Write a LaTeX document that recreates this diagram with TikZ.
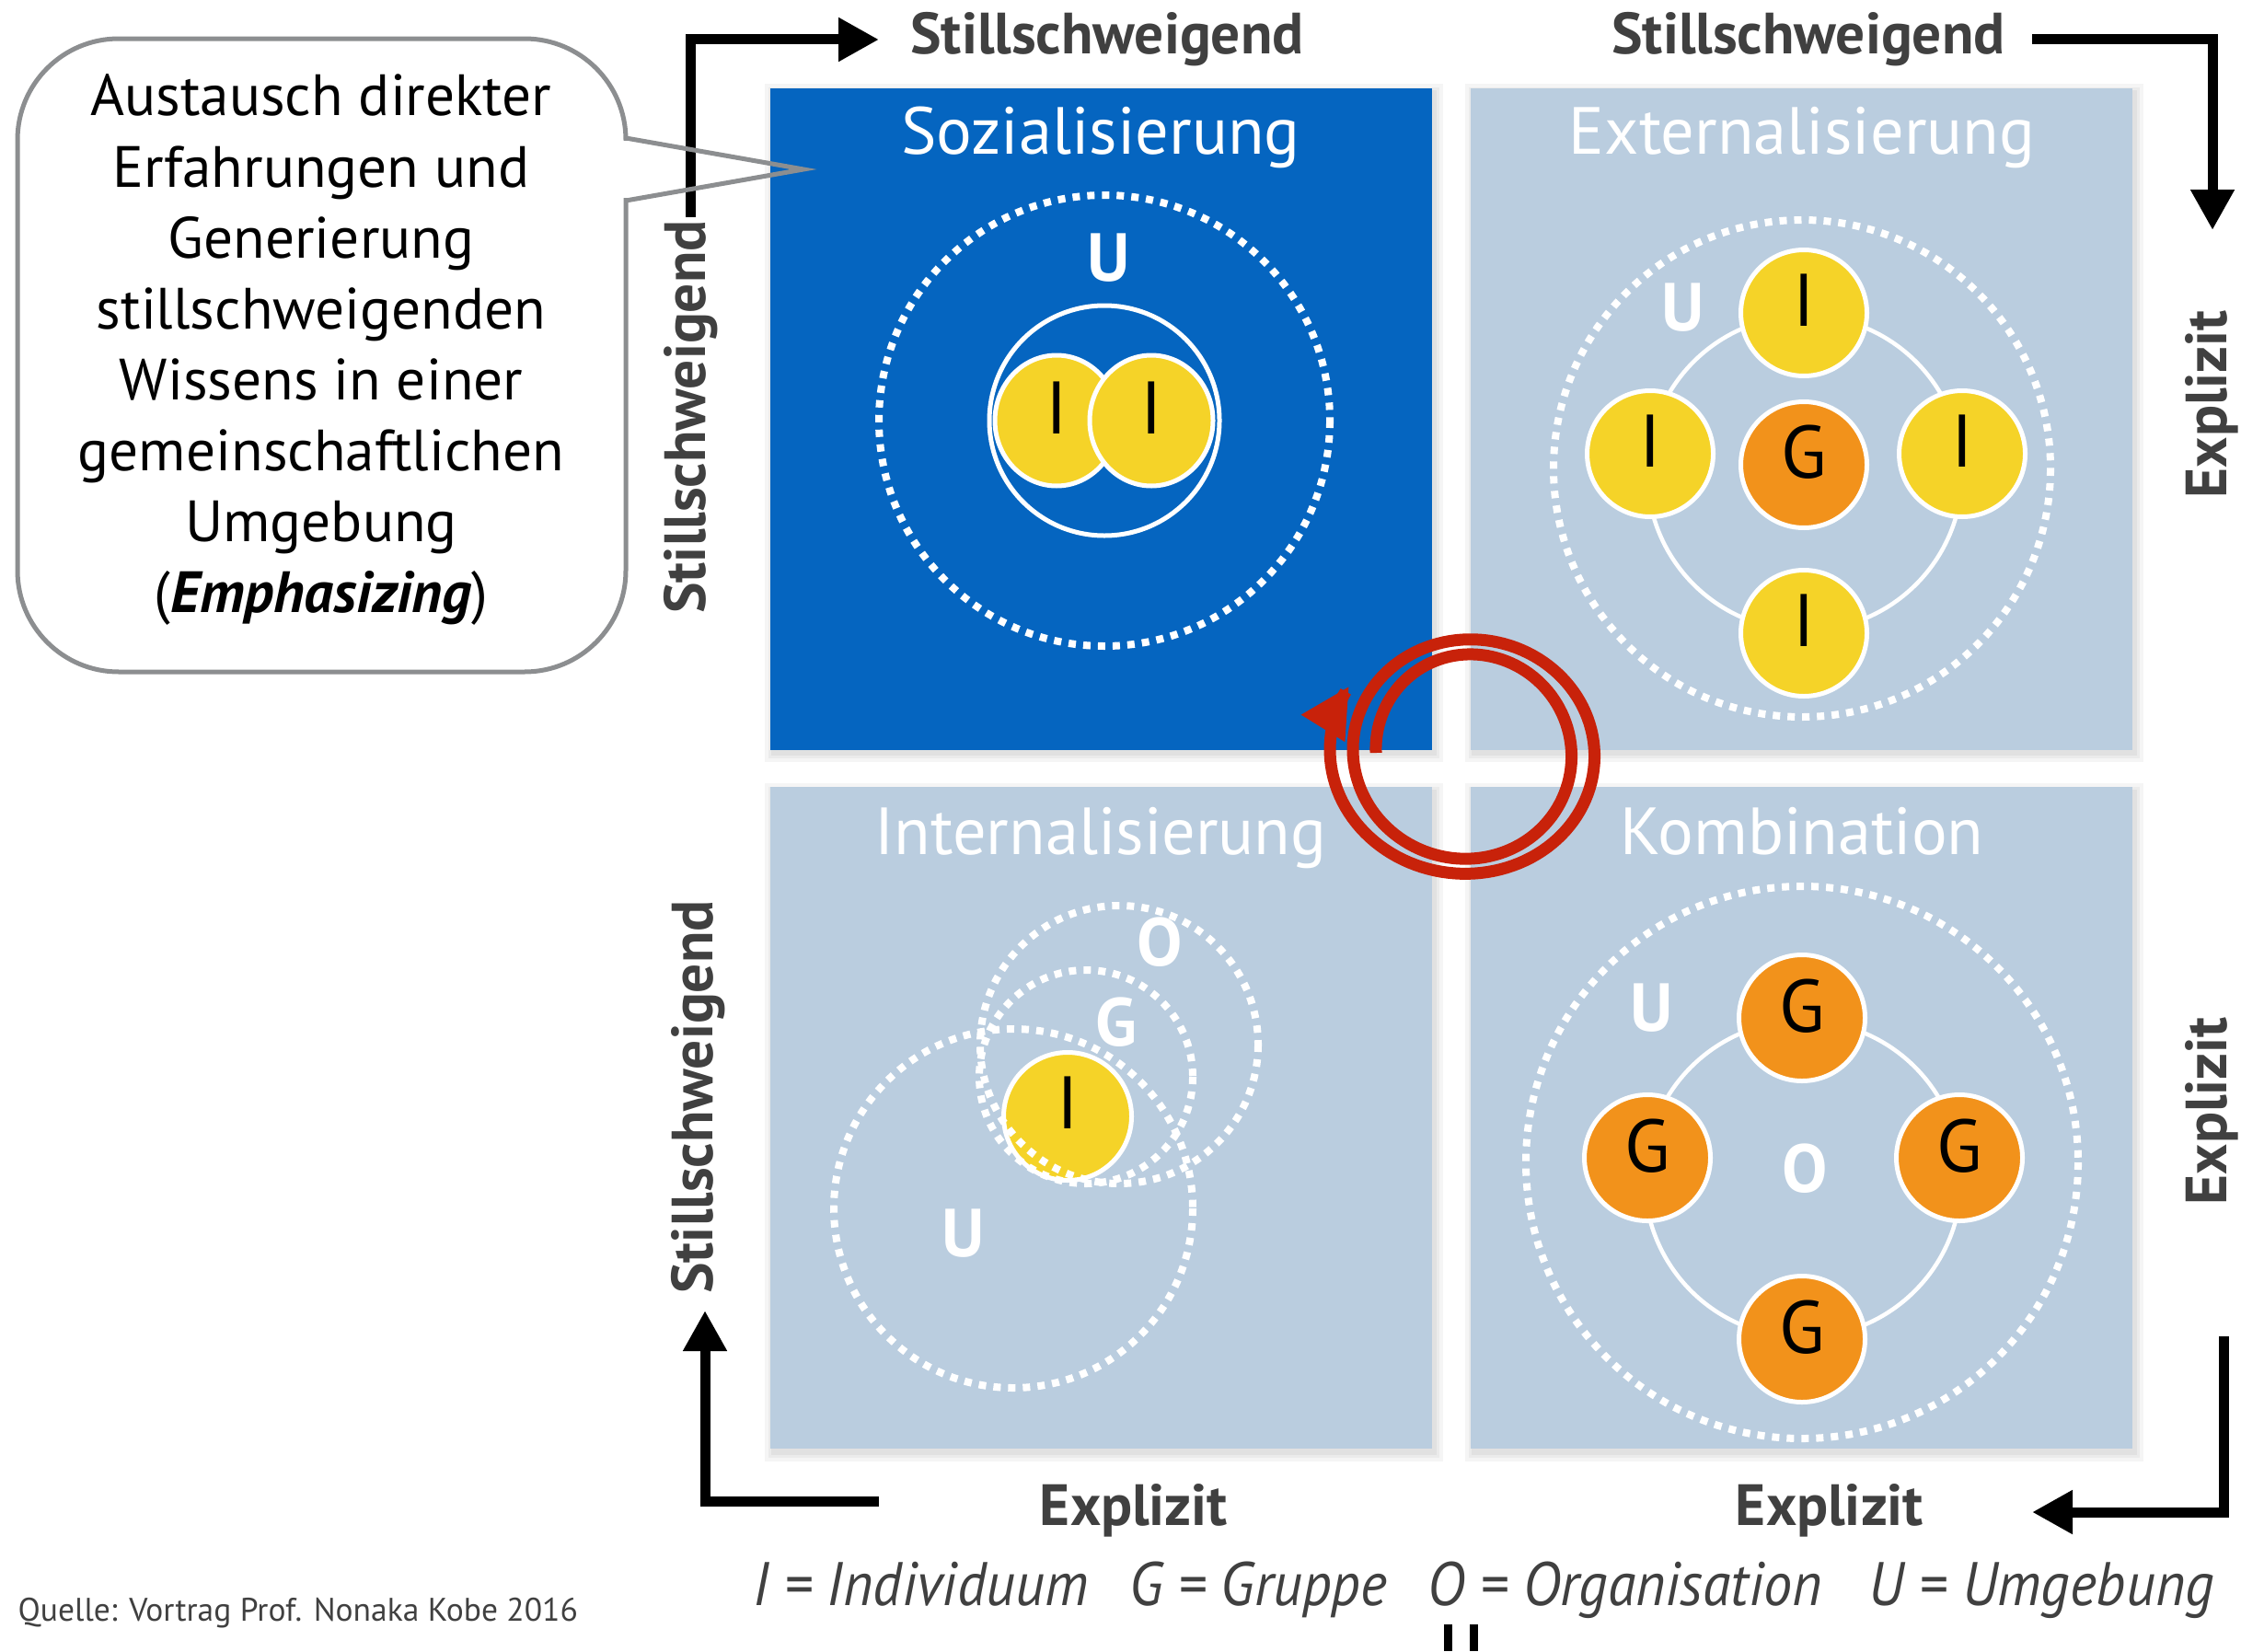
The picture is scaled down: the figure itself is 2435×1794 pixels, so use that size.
\documentclass[tikz,border=0pt]{standalone}
\usepackage{fontspec}
\setmainfont{PT Sans}
\usetikzlibrary{arrows.meta,shapes.geometric,calc}
\definecolor{sozblue}{HTML}{0565C0}
\definecolor{boxgray}{HTML}{BACDDF}
\definecolor{iyellow}{HTML}{F5D328}
\definecolor{gorange}{HTML}{F2921B}
\definecolor{spiralred}{HTML}{C8220A}
\definecolor{labelgray}{HTML}{404040}
\definecolor{calloutgray}{HTML}{8C8E90}
\newcommand{\fsz}[2]{\fontsize{#1pt}{#2pt}\selectfont}
\begin{document}
\begin{tikzpicture}[x=0.1mm,y=-0.1mm,
  quadbox/.style={minimum width=71.9mm, minimum height=71.9mm, inner sep=0pt, draw=none},
  titletext/.style={text=white, font=\fsz{20.6}{25}, inner sep=0pt, anchor=base},
  dotring/.style={draw=white, line width=0.8mm, dash pattern=on 0.8mm off 0.8mm},
  solidring/.style={draw=white, line width=0.45mm},
  icirc/.style={circle, fill=iyellow, draw=white, line width=0.5mm, minimum size=13.7mm, inner sep=0pt},
  gcirc/.style={circle, fill=gorange, draw=white, line width=0.5mm, minimum size=13.7mm, inner sep=0pt},
  iell/.style={ellipse, fill=iyellow, draw=white, line width=0.5mm, minimum width=13.4mm, minimum height=14.2mm, inner sep=0pt},
  ltr/.style={font=\fsz{23}{27}, text=black, inner sep=0pt},
  wltr/.style={font=\bfseries\fsz{21}{25}, text=white, inner sep=0pt},
  axislabel/.style={font=\bfseries\fsz{18}{21}, text=labelgray, inner sep=0pt},
  axisarrow/.style={draw=black, line width=1.1mm, line join=miter, -{Triangle[length=4.4mm, width=4.5mm]}},
  callouttext/.style={font=\fsz{18}{22}, text=black, inner sep=0pt, anchor=base},
  legend/.style={font=\itshape\fsz{19}{23}, text=labelgray, inner sep=0pt, anchor=base west},
  spiral/.style={draw=spiralred, line width=1.3mm, -{Triangle[length=5.4mm, width=5.2mm]}}
]
\fill[white] (0,0) rectangle (2435,1794);
\useasboundingbox (0,0) rectangle (2435,1794);

% soft shadows of the four boxes
\foreach \bx/\by in {837/96, 1598/96, 837/856, 1598/856} {
  \foreach \b in {2,5,9} {
    \fill[black, opacity=0.04] (\bx-\b+3, \by-\b+4) rectangle (\bx+719+\b+3, \by+719+\b+4);
  }
}

% boxes
\node[quadbox, fill=sozblue] (soz) at (1196.5,455.5) {};
\node[quadbox, fill=boxgray] (ext) at (1957.5,455.5) {};
\node[quadbox, fill=boxgray] (int) at (1196.5,1214.5) {};
\node[quadbox, fill=boxgray] (kom) at (1957.5,1214.5) {};

% titles
\node[titletext] (sozT) at (1196,168) {Sozialisierung};
\node[titletext] (extT) at (1958,168) {Externalisierung};
\node[titletext] (intT) at (1196,928) {Internalisierung};
\node[titletext] (komT) at (1958,928) {Kombination};

% ---- Sozialisierung
\draw[dotring] (1200,457) circle[radius=245];
\draw[white, line width=0.5mm] (1200,457) circle[radius=125];
\node[iell] (sozI1) at (1148,457) {};
\node[iell] (sozI2) at (1251,457) {};
\node[ltr] (sozI1t) at ([yshift=1.4mm]sozI1.center) {I};
\node[ltr] (sozI2t) at ([yshift=1.4mm]sozI2.center) {I};
\node[wltr] (sozU) at (1205,280) {U};

% ---- Externalisierung
\draw[dotring] (1958,509) circle[radius=270];
\draw[solidring] (1961,514) circle[radius=171];
\node[icirc] (extI1) at (1960,340) {};
\node[icirc] (extI2) at (1793,493) {};
\node[icirc] (extI3) at (2132,493) {};
\node[icirc] (extI4) at (1960,688) {};
\node[gcirc] (extG) at (1960,505) {};
\node[ltr] (extI1t) at ([yshift=1.4mm]extI1.center) {I};
\node[ltr] (extI2t) at ([yshift=1.4mm]extI2.center) {I};
\node[ltr] (extI3t) at ([yshift=1.4mm]extI3.center) {I};
\node[ltr] (extI4t) at ([yshift=1.4mm]extI4.center) {I};
\node[ltr] (extGt) at ([yshift=1.4mm]extG.center) {G};
\node[wltr] (extU) at (1829,334) {U};

% ---- Internalisierung
\node[icirc, minimum size=13.9mm] (intI) at (1160,1213) {};
\node[ltr] (intIt) at ([yshift=1.5mm]intI.center) {I};
\node[wltr] (intO) at (1260,1024) {O};
\node[wltr] (intGl) at (1213,1111) {G};
\node[wltr] (intU) at (1047,1340) {U};
\draw[dotring] (1101,1313) circle[radius=195];
\draw[dotring] (1180,1170) circle[radius=116];
\draw[dotring] (1216,1135) circle[radius=151];

% ---- Kombination
\draw[dotring] (1958,1263) circle[radius=300];
\draw[solidring] (1959,1281) circle[radius=172];
\node[gcirc] (komG1) at (1958,1106) {};
\node[gcirc] (komG2) at (1790,1258) {};
\node[gcirc] (komG3) at (2129,1258) {};
\node[gcirc] (komG4) at (1958,1455) {};
\node[ltr] (komG1t) at ([yshift=1.3mm]komG1.center) {G};
\node[ltr] (komG2t) at ([yshift=1.3mm]komG2.center) {G};
\node[ltr] (komG3t) at ([yshift=1.3mm]komG3.center) {G};
\node[ltr] (komG4t) at ([yshift=1.3mm]komG4.center) {G};
\node[wltr] (komU) at (1795,1095) {U};
\node[wltr] (komO) at (1961,1270) {O};

% ---- spiral
\draw[spiral] plot[domain=0:752, samples=260, variable=\t]
  ({1595-(100+0.0694*\t)*cos(\t)}, {818-(103+0.045*\t)*sin(\t)});

% ---- axis arrows
\coordinate (tlA) at (750,236);
\coordinate (tlB) at (955,43);
\coordinate (trA) at (2208,43);
\coordinate (trB) at (2404,250);
\coordinate (brA) at (2416,1452);
\coordinate (brB) at (2208,1643);
\coordinate (blA) at (955,1631);
\coordinate (blB) at (766,1424);
\draw[axisarrow] (tlA) |- (tlB);
\draw[axisarrow] (trA) -| (trB);
\draw[axisarrow] (brA) |- (brB);
\draw[axisarrow] (blA) -| (blB);

% ---- axis labels
\node[axislabel, anchor=base] (topL) at (1203,59) {Stillschweigend};
\node[axislabel, anchor=base] (topR) at (1965,59) {Stillschweigend};
\node[axislabel, anchor=base] (botL) at (1232,1657) {Explizit};
\node[axislabel, anchor=base] (botR) at (1988,1657) {Explizit};
\node[axislabel, rotate=90] (leftU) at (751,453) {Stillschweigend};
\node[axislabel, rotate=90] (leftL) at (759,1192) {Stillschweigend};
\node[axislabel, rotate=90] (rightU) at (2403,439) {Explizit};
\node[axislabel, rotate=90] (rightL) at (2403,1207) {Explizit};

% ---- callout
\node[draw=calloutgray, fill=white, line width=0.5mm, rounded corners=11mm,
      minimum width=66.1mm, minimum height=68.8mm, inner sep=0pt] (callout) at (349.5,386) {};
\fill[white] (676,153) rectangle (684,215);
\coordinate (ptA) at (680,150);
\coordinate (ptTip) at (873,184);
\coordinate (ptB) at (680,218);
\draw[calloutgray, line width=0.5mm, line join=miter] (ptA) -- (ptTip) -- (ptB);
\node[callouttext] (c1) at (349,126) {Austausch direkter};
\node[callouttext] (c2) at (349,203) {Erfahrungen und};
\node[callouttext] (c3) at (349,280) {Generierung};
\node[callouttext] (c4) at (349,357) {stillschweigenden};
\node[callouttext] (c5) at (349,434) {Wissens in einer};
\node[callouttext] (c6) at (349,511) {gemeinschaftlichen};
\node[callouttext] (c7) at (349,588) {Umgebung};
\node[callouttext] (c8) at (349,665) {(\textbf{\textit{Emphasizing}})};

% ---- legend and source
\node[legend] (legI) at (818,1744) {\scalebox{0.93}[1]{I = Individuum}};
\node[legend] (legG) at (1227,1744) {\scalebox{0.93}[1]{G = Gruppe}};
\node[legend] (legO) at (1551,1744) {\scalebox{0.93}[1]{O = Organisation}};
\node[legend] (legU) at (2030,1744) {\scalebox{0.93}[1]{U = Umgebung}};
\node[font=\fsz{10.1}{12}, text=labelgray, inner sep=0pt, anchor=base west] (src) at (19,1761) {Quelle: Vortrag Prof. Nonaka Kobe 2016};
\fill[black] (1569,1765) rectangle (1578,1794);
\fill[black] (1597,1765) rectangle (1606,1794);
\end{tikzpicture}
\end{document}
